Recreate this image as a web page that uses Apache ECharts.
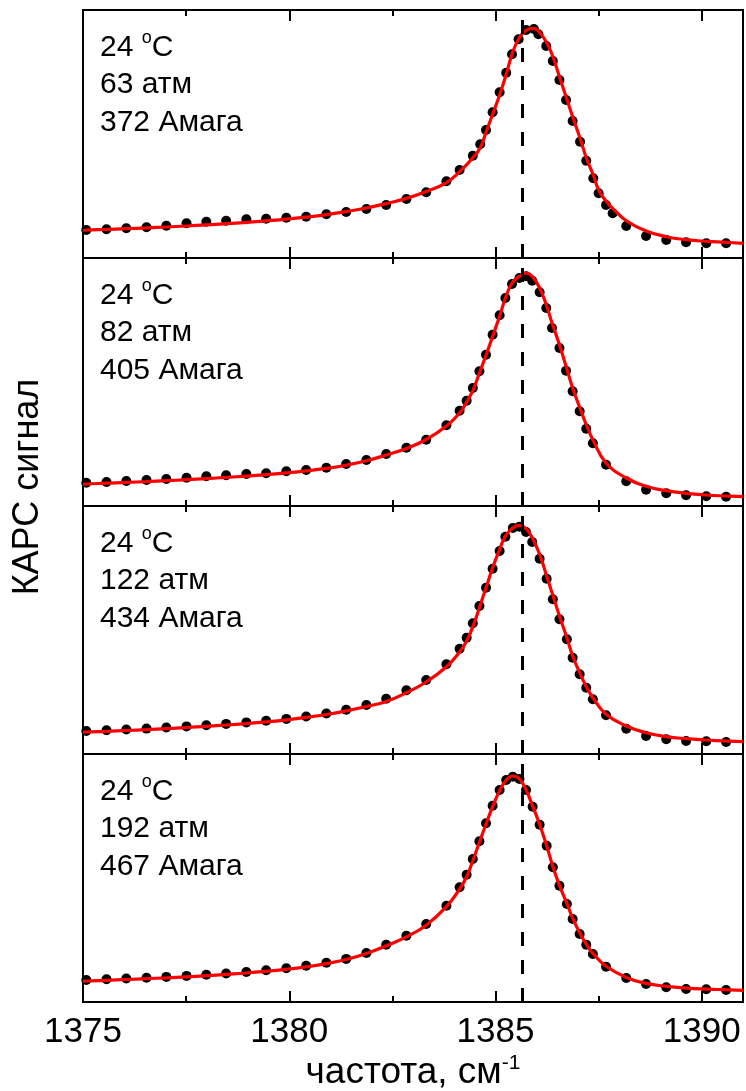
<!DOCTYPE html>
<html>
<head>
<meta charset="utf-8">
<script src="https://cdn.jsdelivr.net/npm/echarts@6/dist/echarts.min.js"></script>
<style>
  html, body { margin: 0; padding: 0; background: #fff; }
  #chart { width: 746px; height: 1091px; }
</style>
</head>
<body>
<div id="chart"></div>
<script>
// CARS spectra at 24 °C for four pressures (stacked panels).
// Signal is in arbitrary units (0..100 per panel).

const freq1 = [1375.08, 1375.57, 1376.05, 1376.54, 1377.02, 1377.51, 1377.99, 1378.47, 1378.96, 1379.44,
  1379.93, 1380.41, 1380.90, 1381.38, 1381.87, 1382.35, 1382.84, 1383.32, 1383.81, 1384.13,
  1384.45, 1384.63, 1384.77, 1384.93, 1385.10, 1385.26, 1385.40, 1385.56, 1385.74, 1385.93,
  1386.04, 1386.23, 1386.39, 1386.55, 1386.71, 1386.87, 1387.05, 1387.20, 1387.37, 1387.50,
  1387.68, 1387.84, 1388.17, 1388.65, 1389.14, 1389.62, 1390.11, 1390.59];
const signal1 = [11.29, 11.57, 11.98, 12.38, 13.02, 13.99, 14.64, 15.04, 15.60, 15.85,
  16.25, 16.65, 17.62, 18.55, 19.76, 21.37, 23.79, 26.49, 30.97, 35.48,
  41.25, 45.85, 51.61, 58.75, 66.81, 74.72, 82.14, 88.19, 91.94, 92.34,
  90.20, 85.48, 79.44, 71.77, 63.71, 55.24, 46.90, 39.23, 32.14, 26.09,
  21.37, 18.02, 12.90, 8.87, 7.26, 6.33, 5.93, 5.93];
// fitted curve: value at 1375, at every measured frequency, and at 1391
const fit1 = [11.09, 11.29, 11.53, 11.81, 12.14, 12.50, 12.90, 13.35, 13.83, 14.35, 14.96,
  15.65, 16.49, 17.50, 18.71, 20.16, 21.94, 24.03, 26.81, 30.44, 34.80,
  40.44, 44.48, 50.69, 57.94, 65.73, 74.07, 82.14, 88.31, 91.81, 92.62,
  91.53, 87.22, 81.17, 73.10, 65.04, 56.98, 48.27, 40.44, 33.47, 27.42,
  22.98, 20.04, 15.04, 10.89, 8.59, 7.38, 6.73, 6.33, 5.93];

const freq2 = [1375.08, 1375.57, 1376.05, 1376.54, 1377.02, 1377.51, 1377.99, 1378.47, 1378.96, 1379.44,
  1379.93, 1380.41, 1380.90, 1381.38, 1381.87, 1382.35, 1382.84, 1383.32, 1383.81, 1384.13,
  1384.30, 1384.45, 1384.61, 1384.77, 1384.93, 1385.10, 1385.24, 1385.40, 1385.58, 1385.74,
  1385.89, 1386.07, 1386.23, 1386.37, 1386.55, 1386.71, 1386.87, 1387.04, 1387.20, 1387.36,
  1387.68, 1388.17, 1388.65, 1389.14, 1389.62, 1390.11, 1390.59];
const signal2 = [9.40, 9.68, 10.08, 10.48, 10.89, 11.41, 11.98, 12.38, 12.90, 13.19,
  13.99, 14.52, 15.44, 16.94, 18.55, 20.97, 23.51, 26.73, 32.54, 38.43,
  42.46, 47.58, 54.31, 61.01, 69.07, 76.90, 83.87, 89.52, 91.94, 92.62,
  90.85, 86.17, 79.84, 71.77, 63.71, 54.56, 46.25, 38.19, 31.17, 25.28,
  16.65, 9.96, 6.57, 5.12, 4.31, 3.91, 3.75];
const fit2 = [8.75, 8.87, 9.19, 9.52, 9.84, 10.20, 10.60, 11.05, 11.53, 12.06, 12.66,
  13.35, 14.15, 15.16, 16.45, 18.23, 20.56, 23.19, 26.81, 32.26, 37.50,
  41.94, 46.49, 53.63, 60.77, 68.43, 76.49, 83.87, 89.92, 92.62, 93.95,
  92.62, 87.90, 81.17, 73.79, 65.04, 56.33, 47.58, 39.80, 32.78, 26.73,
  17.34, 11.29, 7.94, 6.17, 5.12, 4.44, 4.03, 3.75];

const freq3 = [1375.08, 1375.57, 1376.05, 1376.54, 1377.02, 1377.51, 1377.99, 1378.47, 1378.96, 1379.44,
  1379.93, 1380.41, 1380.90, 1381.38, 1381.87, 1382.35, 1382.84, 1383.32, 1383.81, 1384.13,
  1384.30, 1384.45, 1384.61, 1384.77, 1384.93, 1385.10, 1385.24, 1385.42, 1385.58, 1385.74,
  1385.89, 1386.07, 1386.24, 1386.39, 1386.55, 1386.73, 1386.87, 1387.04, 1387.20, 1387.36,
  1387.68, 1388.17, 1388.65, 1389.14, 1389.62, 1390.11, 1390.59];
const signal3 = [9.27, 9.56, 9.88, 10.24, 10.65, 11.13, 11.61, 12.14, 12.74, 13.39,
  14.15, 15.12, 16.33, 17.82, 19.76, 22.30, 25.69, 29.84, 36.17, 42.46,
  46.90, 52.70, 59.68, 67.06, 74.72, 81.85, 87.62, 91.13, 91.65, 89.52,
  85.48, 78.75, 70.69, 62.38, 54.31, 46.25, 38.83, 32.14, 26.73, 22.06,
  15.60, 10.20, 7.26, 5.93, 5.24, 5.12, 4.84];
const fit3 = [8.75, 8.87, 9.15, 9.48, 9.84, 10.24, 10.69, 11.17, 11.69, 12.30, 12.98,
  13.79, 14.76, 15.93, 17.38, 19.15, 21.17, 24.72, 29.03, 35.20, 41.13,
  45.56, 51.33, 58.99, 67.06, 75.12, 82.54, 87.90, 91.25, 92.22, 90.85,
  87.22, 80.52, 71.77, 63.99, 55.65, 46.90, 39.52, 32.78, 27.14, 22.70,
  16.01, 11.29, 8.59, 6.98, 6.17, 5.65, 5.24, 4.96];

const freq4 = [1375.08, 1375.57, 1376.05, 1376.54, 1377.02, 1377.51, 1377.99, 1378.47, 1378.96, 1379.44,
  1379.93, 1380.41, 1380.90, 1381.38, 1381.87, 1382.35, 1382.84, 1383.32, 1383.81, 1384.13,
  1384.30, 1384.45, 1384.61, 1384.77, 1384.93, 1385.10, 1385.26, 1385.42, 1385.58, 1385.74,
  1385.90, 1386.07, 1386.24, 1386.39, 1386.55, 1386.73, 1386.87, 1387.04, 1387.20, 1387.36,
  1387.68, 1388.17, 1388.65, 1389.14, 1389.62, 1390.11, 1390.59];
const signal4 = [8.87, 9.15, 9.44, 9.76, 10.12, 10.52, 10.97, 11.49, 12.10, 12.78,
  13.59, 14.60, 15.81, 17.38, 19.76, 23.10, 26.73, 31.45, 38.83, 46.25,
  51.33, 57.66, 64.80, 72.06, 79.15, 85.48, 89.52, 90.85, 89.92, 85.48,
  78.75, 71.49, 63.02, 54.31, 46.90, 39.52, 33.47, 27.42, 23.10, 19.35,
  14.23, 9.68, 7.26, 5.93, 5.24, 5.12, 4.84];
const fit4 = [8.35, 8.47, 8.75, 9.07, 9.40, 9.76, 10.16, 10.60, 11.13, 11.69, 12.38,
  13.19, 14.19, 15.48, 17.14, 19.56, 22.70, 26.27, 30.97, 38.43, 45.56,
  50.52, 56.98, 64.40, 71.77, 78.75, 85.20, 89.52, 91.13, 89.92, 85.60,
  79.00, 71.60, 63.00, 54.60, 47.00, 39.80, 33.80, 27.90, 23.30, 19.60,
  14.40, 9.90, 7.50, 6.30, 5.60, 5.20, 4.95, 4.72];

const temperatures = ['24', '24', '24', '24'];
const pressures = ['63 атм', '82 атм', '122 атм', '192 атм'];
const densities = ['372 Амага', '405 Амага', '434 Амага', '467 Амага'];

const X_MIN = 1375, X_MAX = 1391;
const MAJOR_STEP = 5, MINOR_STEP = 2.5;
const lineCenter = 1385.64;   // reference position (dashed line), cm^-1

const xTitle = 'частота, см';
const xTitleSup = '-1';
const yTitle = 'КАРС сигнал';

const FONT = '"Liberation Sans", Arial, Helvetica, sans-serif';

const panels = [
  { freq: freq1, signal: signal1, fit: fit1 },
  { freq: freq2, signal: signal2, fit: fit2 },
  { freq: freq3, signal: signal3, fit: fit3 },
  { freq: freq4, signal: signal4, fit: fit4 }
];

const PANEL_TOP = 10, PANEL_H = 248;
const grids = [], xAxes = [], yAxes = [], series = [], graphics = [];

panels.forEach((p, i) => {
  const top = PANEL_TOP + i * PANEL_H;
  const last = i === panels.length - 1;
  grids.push({
    left: 83, right: 3, top: top, height: PANEL_H,
    show: true, borderColor: '#000', borderWidth: 2, backgroundColor: 'transparent',
    containLabel: false, outerBoundsMode: 'none'
  });

  const tick = (len) => ({ show: true, inside: true, length: len, lineStyle: { color: '#000', width: 2 } });
  const base = {
    type: 'value', gridIndex: i, min: X_MIN, max: X_MAX,
    axisLine: { show: false }, splitLine: { show: false }, axisLabel: { show: false }
  };
  // bottom edge: major ticks (with labels on the last panel) and minor ticks
  xAxes.push(Object.assign({}, base, {
    position: 'bottom', interval: MAJOR_STEP, axisTick: tick(11),
    axisLabel: last ? {
      show: true, margin: 13, color: '#000', fontSize: 35, fontFamily: FONT,
      showMaxLabel: false,
      formatter: (v) => (v % MAJOR_STEP === 0 ? String(v) : '')
    } : { show: false },
    name: last ? xTitle + '{sup|' + xTitleSup + '}' : '',
    nameLocation: 'middle', nameGap: 51,
    nameTextStyle: {
      color: '#000', fontSize: 37, fontFamily: FONT, lineHeight: 40,
      rich: { sup: { color: '#000', fontSize: 21, fontFamily: FONT, lineHeight: 16, verticalAlign: 'top' } }
    }
  }));
  xAxes.push(Object.assign({}, base, { position: 'bottom', interval: MINOR_STEP, axisTick: tick(6) }));
  // top edge
  xAxes.push(Object.assign({}, base, { position: 'top', interval: MAJOR_STEP, axisTick: tick(11) }));
  xAxes.push(Object.assign({}, base, { position: 'top', interval: MINOR_STEP, axisTick: tick(6) }));

  yAxes.push({ type: 'value', gridIndex: i, min: 0, max: 100, show: false });

  const points = p.freq.map((f, k) => [f, p.signal[k]]);
  const fitX = [X_MIN].concat(p.freq, [X_MAX]);
  const curve = fitX.map((f, k) => [f, p.fit[k]]);

  series.push({
    type: 'scatter', xAxisIndex: 4 * i, yAxisIndex: i, data: points,
    symbol: 'circle', symbolSize: 10, itemStyle: { color: '#000', opacity: 1 }, z: 2,
    markLine: {
      silent: true, symbol: ['none', 'none'], label: { show: false },
      lineStyle: { color: '#000', width: 3, type: [14, 14], opacity: 1 },
      data: [{ xAxis: lineCenter }], animation: false
    }
  });
  series.push({
    type: 'line', xAxisIndex: 4 * i, yAxisIndex: i, data: curve,
    showSymbol: false, smooth: 0.45,
    lineStyle: { color: '#ff0000', width: 3.2 }, z: 3
  });

  // panel annotation
  graphics.push({
    type: 'text', x: 100, y: top + 38, silent: true,
    style: {
      text: temperatures[i] + ' {sup|o}C', font: '30px ' + FONT, fill: '#000',
      lineHeight: 37, verticalAlign: 'middle', align: 'left',
      rich: { sup: { font: '18px ' + FONT, fill: '#000', lineHeight: 14, verticalAlign: 'top' } }
    }
  });
  graphics.push({
    type: 'text', x: 100, y: top + 75, silent: true,
    style: { text: pressures[i], font: '30px ' + FONT, fill: '#000', verticalAlign: 'middle', align: 'left' }
  });
  graphics.push({
    type: 'text', x: 100, y: top + 112.5, silent: true,
    style: { text: densities[i], font: '30px ' + FONT, fill: '#000', verticalAlign: 'middle', align: 'left' }
  });
});

// vertical axis title
graphics.push({
  type: 'text', x: 28.5, y: 487, rotation: Math.PI / 2, silent: true,
  style: { text: yTitle, font: '36px ' + FONT, fill: '#000', align: 'center', verticalAlign: 'middle' }
});

const chart = echarts.init(document.getElementById('chart'), null, { renderer: 'canvas' });
chart.setOption({
  animation: false,
  backgroundColor: '#fff',
  grid: grids,
  xAxis: xAxes,
  yAxis: yAxes,
  series: series,
  graphic: graphics
});
</script>
</body>
</html>
